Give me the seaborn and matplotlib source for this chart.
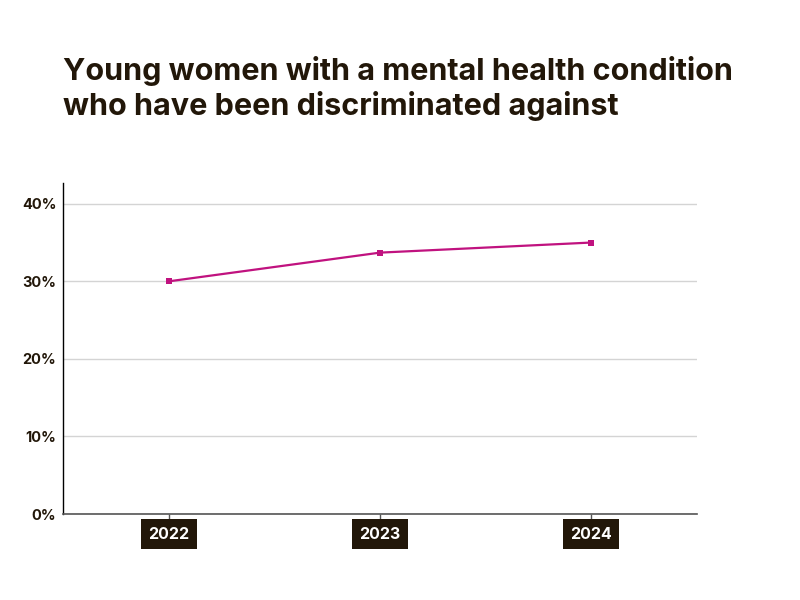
import pandas as pd
import numpy as np
import matplotlib.pyplot as plt
import seaborn as sns

years = ["2022", "2023", "2024"]
share = [30.0, 33.7, 35.0]
y_ticks = [0, 10, 20, 30, 40]
y_labels = ["0%", "10%", "20%", "30%", "40%"]

title = "Young women with a mental health condition\nwho have been discriminated against"

DARK = "#221709"
PINK = "#c0127f"

sns.set_theme(style="white")
plt.rcParams["font.family"] = ["Inter", "DejaVu Sans"]

df = pd.DataFrame({"year": years, "share": share})
df["x"] = np.arange(len(years))

fig = plt.figure(figsize=(8, 6), dpi=100)
ax = fig.add_axes([0.079, 0.1433, 0.792, 0.552])

sns.lineplot(data=df, x="x", y="share", color=PINK, linewidth=1.6,
             marker="s", markersize=5, markeredgewidth=0, ax=ax)

ax.set_xlim(-0.5, 2.5)
ax.set_ylim(0, 42.7)
ax.set_yticks(y_ticks)
ax.set_yticklabels(y_labels, fontsize=10.5, fontweight="bold", color=DARK)
ax.set_xticks(df["x"])
ax.set_xticklabels(years, fontsize=11.5, fontweight="bold", color="white")
for lab in ax.get_xticklabels():
    lab.set_bbox(dict(facecolor=DARK, edgecolor="none", boxstyle="square,pad=0.45"))

ax.grid(axis="y", color="#d4d4d4", linewidth=1)
ax.set_axisbelow(True)
ax.set_xlabel("")
ax.set_ylabel("")

sns.despine(ax=ax, top=True, right=True)
ax.spines["left"].set_color("black")
ax.spines["left"].set_linewidth(1)
ax.spines["bottom"].set_color("#555555")
ax.spines["bottom"].set_linewidth(1.2)

ax.tick_params(axis="x", length=6, width=1, color="#555555", pad=3, bottom=True)
ax.tick_params(axis="y", length=0, pad=5)

fig.text(0.079, 0.907, title, fontsize=22, fontweight="bold", color=DARK,
         va="top", ha="left", linespacing=1.2)

plt.savefig("out.png", dpi=100)
